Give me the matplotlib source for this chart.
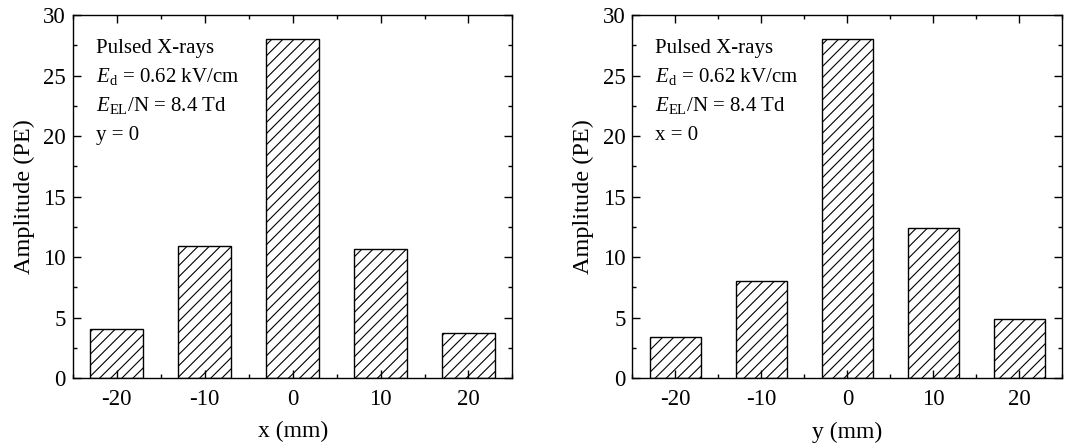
import numpy as np
import matplotlib
matplotlib.use("Agg")
import matplotlib.pyplot as plt
from matplotlib.ticker import MultipleLocator

plt.rcParams['font.family'] = ['Liberation Serif']
plt.rcParams['mathtext.fontset'] = 'custom'
plt.rcParams['mathtext.rm'] = 'Liberation Serif'
plt.rcParams['mathtext.it'] = 'Liberation Serif:italic'
plt.rcParams['axes.unicode_minus'] = False
plt.rcParams['hatch.linewidth'] = 0.8

positions = [-20, -10, 0, 10, 20]
amp_x = [4.1, 10.9, 28.0, 10.7, 3.7]
amp_y = [3.4, 8.0, 28.0, 12.4, 4.9]

fig = plt.figure(figsize=(10.72, 4.48), dpi=100)
ax1 = fig.add_axes([0.068, 0.156, 0.410, 0.810])
ax2 = fig.add_axes([0.590, 0.156, 0.401, 0.810])

panels = [(ax1, amp_x, 'x (mm)', 'y = 0'), (ax2, amp_y, 'y (mm)', 'x = 0')]
for ax, vals, xlab, cond in panels:
    ax.bar(positions, vals, width=6, color='white', edgecolor='black',
           hatch='///', linewidth=1.0)
    ax.set_xlim(-25, 25)
    ax.set_ylim(0, 30)
    ax.xaxis.set_major_locator(MultipleLocator(10))
    ax.xaxis.set_minor_locator(MultipleLocator(5))
    ax.yaxis.set_major_locator(MultipleLocator(5))
    ax.yaxis.set_minor_locator(MultipleLocator(2.5))
    ax.tick_params(which='both', direction='in', top=True, right=True, labelsize=16.5)
    ax.tick_params(which='major', length=6, width=1)
    ax.tick_params(which='minor', length=3, width=1)
    ax.tick_params(axis='x', pad=8)
    ax.tick_params(axis='y', pad=5)
    for s in ax.spines.values():
        s.set_linewidth(1.0)
    ax.set_xlabel(xlab, fontsize=17, labelpad=8)
    ax.set_ylabel('Amplitude (PE)', fontsize=17.5, labelpad=6)
    lines = ['Pulsed X-rays',
             r'$\mathit{E}_{\mathrm{d}}$ = 0.62 kV/cm',
             r'$\mathit{E}_{\mathrm{EL}}$/N = 8.4 Td',
             cond]
    for i, t in enumerate(lines):
        ax.text(0.052, 0.895 - i * 0.08, t, transform=ax.transAxes, fontsize=15)

fig.savefig('out.png', dpi=100)
